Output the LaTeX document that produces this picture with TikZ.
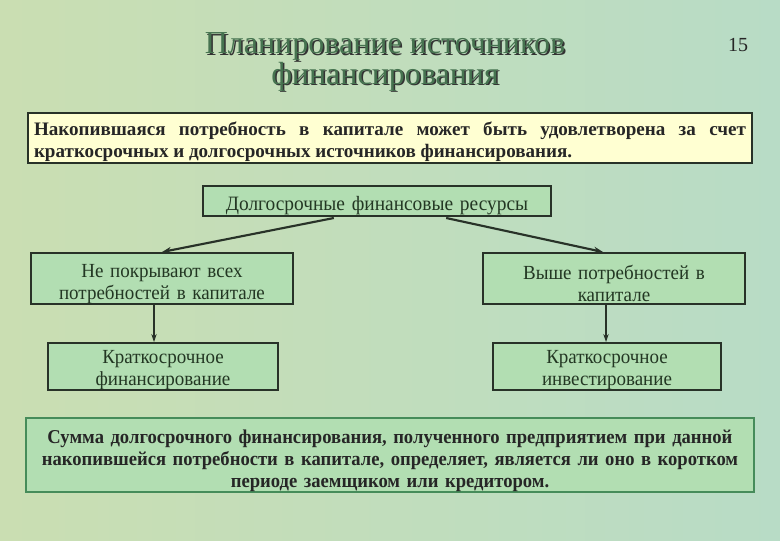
\documentclass[tikz,border=0pt]{standalone}
\usepackage{fontspec}
\setmainfont{Liberation Serif}
\newfontfamily\narrowfont[FakeStretch=0.95]{Liberation Serif}
\usetikzlibrary{arrows.meta,positioning}
\definecolor{bgwarm}{RGB}{202,222,178}
\definecolor{bgcool}{RGB}{184,220,198}
\definecolor{boxfill}{RGB}{178,222,178}
\definecolor{notefill}{RGB}{255,255,210}
\definecolor{boxline}{RGB}{40,50,40}
\definecolor{titlegreen}{RGB}{70,115,80}
\definecolor{textdark}{RGB}{35,55,35}
\definecolor{sumline}{RGB}{70,140,90}

\begin{document}
\begin{tikzpicture}[
    x=0.75pt, y=-0.75pt,
    lower/.style={execute at begin node={\rule{0pt}{#1}}},
    box/.style={draw=boxline, line width=1.5pt, fill=boxfill, inner xsep=2pt, inner ysep=0pt,
      align=center, text=textdark, font=\narrowfont\fontsize{15}{16.5}\selectfont,
      text width=#1*0.75pt, minimum width=#1*0.75pt+4pt},
    link/.style={draw=boxline, line width=1.6pt, -{Stealth[length=7pt,width=5pt]}},
    down/.style={draw=boxline, line width=0.8pt, -{Stealth[length=6pt,width=4pt]}},
  ]
  % background
  \shade[left color=bgwarm, right color=bgcool] (0,0) rectangle (780,540);
  \useasboundingbox (0,0) rectangle (780,540);

  % --- Title ---
  \node[text=black!80, font=\fontsize{24}{23}\selectfont, align=center] (titleshadow)
    at (386.5,63.5) {Планирование источников\\финансирования};
  \node[text=titlegreen, font=\fontsize{24}{23}\selectfont, align=center] (title)
    at (385,62) {Планирование источников\\финансирования};
  \node[font=\fontsize{15}{17}\selectfont, text=black!85] (pagenum) at (738,45) {15};

  % --- Note ---
  \node[draw=boxline, line width=1pt, fill=notefill, minimum width=724*0.75pt,
    minimum height=50*0.75pt, inner xsep=4pt, inner ysep=0pt, text width=712*0.75pt,
    align=justify, lower=1.14em,
    font=\bfseries\fontsize{14.3}{16.5}\selectfont, text=black!85] (note)
    at (390,138) {Накопившаяся потребность в капитале может быть удовлетворена за счет
    краткосрочных и долгосрочных источников финансирования.};

  % --- Tree ---
  \node[box=343, minimum height=30*0.75pt, lower=1.1em,
    font=\narrowfont\fontsize{15.3}{16}\selectfont] (longterm) at (377,201)
    {Долгосрочные финансовые ресурсы};
  \node[box=257, minimum height=51*0.75pt, lower=1.2em] (notcover)
    at (162,278.5) {Не покрывают всех\\потребностей в капитале};
  \node[box=257, minimum height=51*0.75pt, lower=1.2em] (above)
    at (614,278.5) {Выше потребностей в\\капитале};
  \node[box=225, minimum height=47*0.75pt, lower=1em] (stfin)
    at (163,366.5) {Краткосрочное\\финансирование};
  \node[box=223, minimum height=47*0.75pt, lower=1em] (stinv)
    at (607,366.5) {Краткосрочное\\инвестирование};

  \draw[link] (longterm.south west) ++(132,1) -- (notcover.north);
  \draw[link] (longterm.south east) ++(-106,1) -- ([xshift=-11*0.75pt]above.north);
  \draw[down] ([xshift=-8*0.75pt]notcover.south) -- ([xshift=-9*0.75pt]stfin.north);
  \draw[down] ([xshift=-8*0.75pt]above.south) -- ([xshift=-1*0.75pt]stinv.north);

  % --- Summary ---
  \node[draw=sumline, line width=1pt, fill=boxfill, minimum width=728*0.75pt,
    minimum height=74*0.75pt, text width=720*0.75pt, inner xsep=2pt, inner ysep=0pt,
    align=center, lower=1.33em,
    font=\narrowfont\bfseries\fontsize{14.7}{16.5}\selectfont, text=black!85] (summary)
    at (390,455) {Сумма долгосрочного финансирования, полученного предприятием при данной\\
    накопившейся потребности в капитале, определяет, является ли оно в коротком\\
    периоде заемщиком или кредитором.};
\end{tikzpicture}
\end{document}
